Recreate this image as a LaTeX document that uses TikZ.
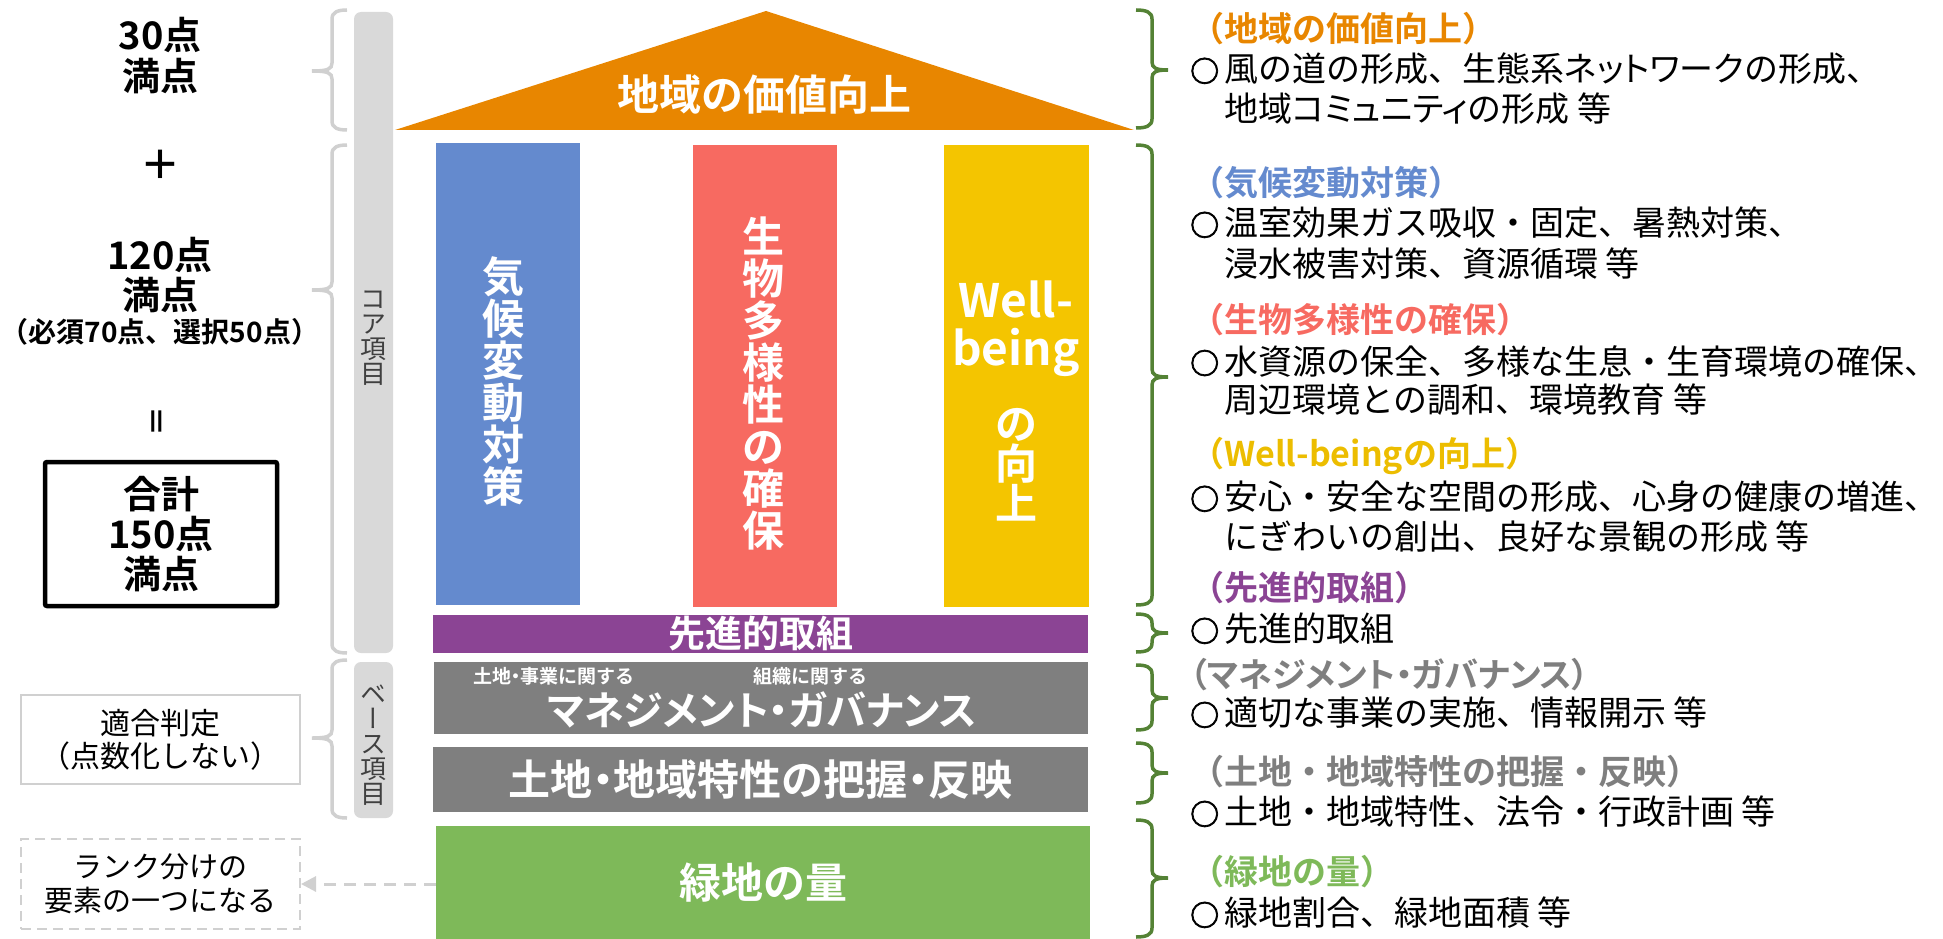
\documentclass[tikz,border=0pt]{standalone}
\usepackage{fontspec}
\setmainfont{Noto Sans CJK JP}[BoldFont={Noto Sans CJK JP Bold}]
\newfontfamily\jpp{Noto Sans CJK JP}[RawFeature=+palt, BoldFont={Noto Sans CJK JP Bold}]
\newfontfamily\jpv{Noto Sans CJK JP}[RawFeature=+vert]
\newfontfamily\bulf{Noto Sans CJK JP Bold}[FakeBold=2.5]
\usetikzlibrary{arrows.meta}
\newcommand\fsz[2]{\fontsize{#1}{#2}\selectfont}
\newcommand\nd{\makebox[0.5em]{・}}
\newcommand\bul{\makebox[34pt][l]{\bulf\fsz{29}{40}○}}
\definecolor{cOrange}{HTML}{E88600}
\definecolor{cBlue}{HTML}{648ACE}
\definecolor{cRed}{HTML}{F76A61}
\definecolor{cYellow}{HTML}{F4C500}
\definecolor{cYellowT}{HTML}{ECBD00}
\definecolor{cPurple}{HTML}{8B4494}
\definecolor{cGray}{HTML}{7F7F7F}
\definecolor{cGreen}{HTML}{7EB959}
\definecolor{cBrace}{HTML}{548235}
\definecolor{cLight}{HTML}{D9D9D9}
\definecolor{cLine}{HTML}{D0D0D0}
\definecolor{cDark}{HTML}{404040}
\newcommand\grayBrace[3]{%
  \draw[graybr] (347,#1) .. controls (338,#1) and (332,#1+2) .. (332,#1+9) -- (332,#2-8)
    .. controls (332,#2-2) and (328,#2) .. (312,#2)
    .. controls (328,#2) and (332,#2+2) .. (332,#2+8) -- (332,#3-9)
    .. controls (332,#3-2) and (338,#3) .. (347,#3);}
\newcommand\greenBrace[3]{%
  \draw[greenbr] (1136,#1) .. controls (1146,#1) and (1152,#1+2) .. (1152,#1+9) -- (1152,#2-8)
    .. controls (1152,#2-2) and (1156,#2) .. (1168,#2)
    .. controls (1156,#2) and (1152,#2+2) .. (1152,#2+8) -- (1152,#3-9)
    .. controls (1152,#3-2) and (1146,#3) .. (1136,#3);}
\tikzset{
  graybr/.style={draw=cLine, line width=3.5pt},
  greenbr/.style={draw=cBrace, line width=3.5pt},
  lefttxt/.style={inner sep=0pt, align=center},
  barlbl/.style={text=white, inner sep=0pt, align=center},
  pillar/.style={inner sep=0pt, draw=none},
  corebar/.style={fill=cLight, rounded corners=7pt, inner sep=0pt},
  vlbl/.style={inner sep=0pt, align=center, text=cDark, font=\jpv\fsz{26}{25}},
  totalbox/.style={draw=black, line width=4.5pt, rounded corners=2pt, inner sep=0pt, align=center},
  thinbox/.style={draw=cLine, line width=2pt, inner sep=0pt, align=center},
  dashbox/.style={draw=cLine, line width=2pt, dash pattern=on 10pt off 6pt, inner sep=0pt, align=center},
  dasharrow/.style={draw=cLine, line width=3pt, dash pattern=on 12pt off 8pt, -{Triangle[length=15pt,width=15pt]}},
  rtxt/.style={anchor=west, inner sep=0pt},
  head/.style={rtxt, font=\bfseries\fsz{34}{40}},
  body/.style={rtxt, font=\fsz{34}{40}}
}
\begin{document}
\begin{tikzpicture}[x=1pt,y=-1pt]
\useasboundingbox (0,0) rectangle (1943,939);

% ---------- left column ----------
\node[lefttxt, font=\bfseries\fsz{38}{41}] (s30) at (160,56) {30点\\満点};
\node[lefttxt, font=\bfseries\fsz{40}{40}] (plus) at (160,165) {＋};
\node[lefttxt, font=\bfseries\fsz{38}{40}] (s120) at (160,275) {120点\\満点};
\node[lefttxt, font=\bfseries\fsz{28}{30}] (detail) at (160,332) {（必須70点、選択50点）};
\node[lefttxt, font=\bfseries\fsz{30}{30}, rotate=90] (equal) at (160,421) {＝};
\node[totalbox, minimum width=232pt, minimum height=144pt, font=\bfseries\fsz{38}{40}] (total) at (161,534) {合計\\150点\\満点};
\node[thinbox, minimum width=279pt, minimum height=89pt, font=\fsz{30}{33}] (judge) at (160.5,739.5) {適合判定\\（点数化しない）};
\node[dashbox, minimum width=279pt, minimum height=90pt, font=\fsz{29}{34}] (rank) at (160.5,884) {ランク分けの\\要素の一つになる};

% gray braces
\grayBrace{10}{71}{130}
\grayBrace{145}{290}{653}
\grayBrace{660}{738}{818}

% core / base bars
\node[corebar, minimum width=39pt, minimum height=641pt] (core) at (373.5,332.5) {};
\node[vlbl] (coretxt) at (373.5,338) {コ\\ア\\項\\目};
\node[corebar, minimum width=39pt, minimum height=156pt] (base) at (373.5,740) {};
\node[vlbl] (basetxt) at (373.5,745) {ベ\\ー\\ス\\項\\目};

% ---------- house ----------
\coordinate (apex) at (766,11);
\coordinate (roofL) at (395,130);
\coordinate (roofR) at (1134,130);
\fill[cOrange] (apex) -- (roofL) -- (roofR) -- cycle;
\node[barlbl, font=\bfseries\fsz{42}{42}] (rooftxt) at (764,95) {地域の価値向上};

\node[pillar, fill=cBlue, minimum width=144pt, minimum height=462pt] (climate) at (508,374) {};
\node[barlbl, font=\bfseries\fsz{42}{42}] (climatetxt) at (503,381) {気\\候\\変\\動\\対\\策};
\node[pillar, fill=cRed, minimum width=144pt, minimum height=462pt] (bio) at (765,376) {};
\node[barlbl, font=\bfseries\fsz{42}{42}] (biotxt) at (763,384) {生\\物\\多\\様\\性\\の\\確\\保};
\node[pillar, fill=cYellow, minimum width=145pt, minimum height=462pt] (well) at (1016.5,376) {};
\node[barlbl, font=\bfseries\fsz{42}{40}, anchor=north] (welltxt) at (1016,281) {{\fsz{46}{40}Well-}\\[8pt]{\fsz{46}{40}being}\\[30pt]の\\向\\上};

\node[pillar, fill=cPurple, minimum width=655pt, minimum height=38pt, text=white, font=\bfseries\fsz{37}{37}] (adv) at (760.5,634) {先進的取組};
\node[pillar, fill=cGray, minimum width=654pt, minimum height=72pt] (mgmt) at (761,698) {};
\node[barlbl, font=\bfseries\fsz{19}{19}] (mgmtA) at (554,676) {土地\nd 事業に関する};
\node[barlbl, font=\bfseries\fsz{19}{19}] (mgmtB) at (810,676) {組織に関する};
\node[barlbl, font=\jpp\bfseries\fsz{40}{40}] (mgmttxt) at (762,710) {マネジメント・ガバナンス};
\node[pillar, fill=cGray, minimum width=655pt, minimum height=65pt, text=white, font=\bfseries\fsz{42}{42}] (land) at (760.5,779.5) {土地\nd 地域特性の把握\nd 反映};
\node[pillar, fill=cGreen, minimum width=654pt, minimum height=113pt, text=white, font=\bfseries\fsz{42}{42}] (green) at (763,882.5) {緑地の量};

\draw[dasharrow] (rank.east -| green.west) -- (rank.east);

% ---------- right braces ----------
\greenBrace{10}{70}{128}
\greenBrace{145}{377}{605}
\greenBrace{614}{633}{652}
\greenBrace{665}{698}{730}
\greenBrace{743}{773}{803}
\greenBrace{820}{878}{937}

% ---------- right texts ----------
\node[head, text=cOrange] (h1) at (1190,29) {（地域の価値向上）};
\node[body] (b1a) at (1190,69) {\bul 風の道の形成、生態系{\jpp ネットワーク}の形成、};
\node[body] (b1b) at (1224,109) {地域{\jpp コミュニティ}の形成 等};
\node[head, text=cBlue] (h2) at (1190,183) {（気候変動対策）};
\node[body] (b2a) at (1190,223) {\bul 温室効果ガス吸収・固定、暑熱対策、};
\node[body] (b2b) at (1224,264) {浸水被害対策、資源循環 等};
\node[head, text=cRed] (h3) at (1190,320) {（生物多様性の確保）};
\node[body] (b3a) at (1190,361) {\bul 水資源の保全、多様な生息・生育環境の確保、};
\node[body] (b3b) at (1224,400) {周辺環境との調和、環境教育 等};
\node[head, text=cYellowT] (h4) at (1190,456) {（Well-beingの向上）};
\node[body] (b4a) at (1190,497) {\bul 安心・安全な空間の形成、心身の健康の増進、};
\node[body] (b4b) at (1224,537) {にぎわいの創出、良好な景観の形成 等};
\node[head, text=cPurple] (h5) at (1190,588) {（先進的取組）};
\node[body] (b5a) at (1190,629) {\bul 先進的取組};
\node[head, text=cGray, font=\jpp\bfseries\fsz{34}{40}] (h6) at (1190,675) {（マネジメント・ガバナンス）};
\node[body] (b6a) at (1190,713) {\bul 適切な事業の実施、情報開示 等};
\node[head, text=cGray] (h7) at (1190,772) {（土地・地域特性の把握・反映）};
\node[body] (b7a) at (1190,812) {\bul 土地・地域特性、法令・行政計画 等};
\node[head, text=cGreen] (h8) at (1190,872) {（緑地の量）};
\node[body] (b8a) at (1190,913) {\bul 緑地割合、緑地面積 等};
\end{tikzpicture}
\end{document}
